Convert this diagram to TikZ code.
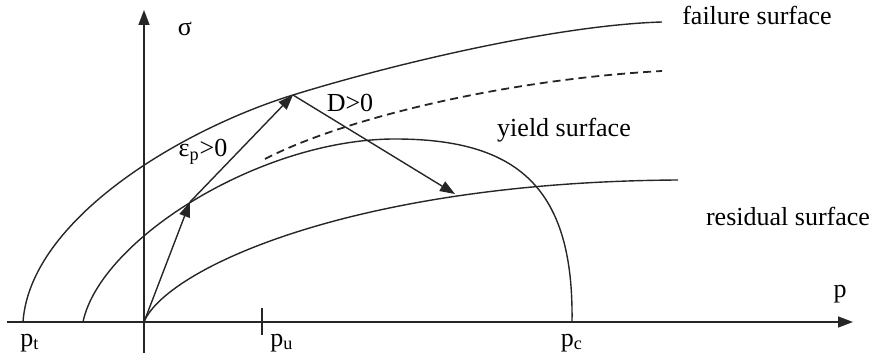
\documentclass[tikz,border=0pt]{standalone}
\usepackage{fontspec}
\setmainfont{Liberation Serif}
\usetikzlibrary{arrows.meta}
\begin{document}
\begin{tikzpicture}[x=0.5pt,y=-0.5pt,
  curve/.style={line width=0.7pt,black!85},
  axis/.style={line width=0.7pt,black!85,-{Triangle[length=7.5pt,width=5.5pt]}},
  path arrow/.style={line width=0.7pt,black!85,-{Triangle[length=7.5pt,width=5.5pt]}},
  lbl/.style={inner sep=0pt,font=\fontsize{13pt}{15pt}\selectfont}]
\useasboundingbox (0,0) rectangle (879,357);
% key points
\coordinate (O) at (144,322);
\coordinate (A) at (190,202);
\coordinate (B) at (293,95);
\coordinate (C) at (455,194);
\coordinate (xs) at (7,322);
\coordinate (xe) at (853,322);
\coordinate (ys) at (144,353);
\coordinate (ye) at (144,10);
\coordinate (tu1) at (262,308);
\coordinate (tu2) at (262,335);
% axes
\draw[axis] (xs) -- (xe);
\draw[axis] (ys) -- (ye);
\draw[curve] (tu1) -- (tu2);
% failure surface
\draw[curve] (23,322) .. controls (30,220) and (180,130) .. (B)
  .. controls (400,62) and (560,25) .. (662,22);
% yield surface
\draw[curve] (83,322) .. controls (100,240) and (260,139) .. (395,139)
  .. controls (518,139) and (574,188) .. (572,322);
% dashed surface
\draw[curve,line width=0.9pt,dash pattern=on 4pt off 2.5pt] (265,159) .. controls (340,120) and (500,80) .. (662,71);
% residual surface
\draw[curve] (O) .. controls (165,270) and (350,182) .. (678,180);
% stress path
\draw[path arrow] (O) -- (A);
\draw[path arrow] (A) -- (B);
\draw[path arrow] (B) -- (C);
% labels
\node[lbl] (sig) at (185,29) {σ};
\node[lbl] (p) at (840,294) {p};
\node[lbl] (pt) at (30,343) {p\textsubscript{t}};
\node[lbl] (pu) at (282,343) {p\textsubscript{u}};
\node[lbl] (pc) at (572,343) {p\textsubscript{c}};
\node[lbl] (D) at (350,103) {D>0};
\node[lbl] (eps) at (203,152) {ε\textsubscript{p}>0};
\node[lbl] (fail) at (757,15) {failure surface};
\node[lbl] (yield) at (564,130) {yield surface};
\node[lbl] (resid) at (788,216) {residual surface};
\end{tikzpicture}
\end{document}
